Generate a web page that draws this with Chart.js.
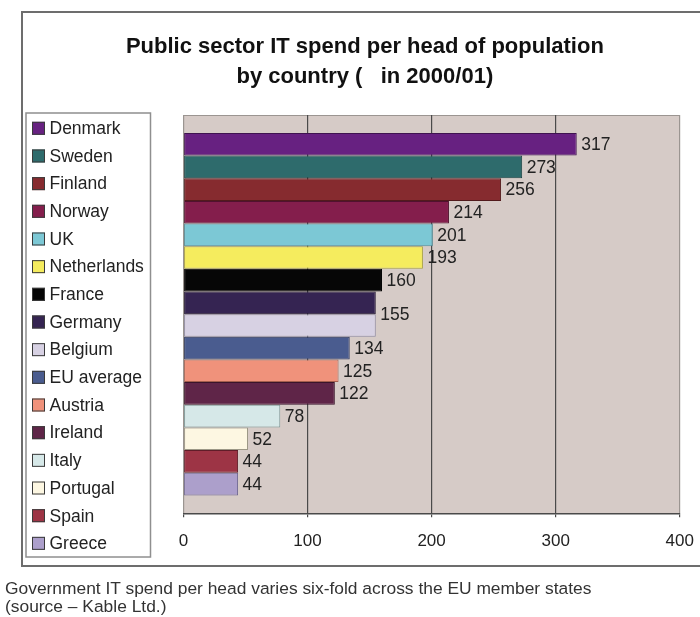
<!DOCTYPE html>
<html>
<head>
<meta charset="utf-8">
<script src="https://cdn.jsdelivr.net/npm/chart.js@4/dist/chart.umd.min.js"></script>
<style>
  html, body { margin: 0; padding: 0; background: #fff; }
  #wrap { position: relative; width: 700px; height: 617px; overflow: hidden; }
  #c { position: absolute; left: 0; top: 0; }
  .note {
    position: absolute; left: 5px; top: 579px;
    font: 17.4px "Liberation Sans", Arial, sans-serif; color: #333;
    line-height: 18px; white-space: nowrap;
  }
</style>
</head>
<body>
<div id="wrap">
  <canvas id="c" width="700" height="617"></canvas>
  <div class="note">Government IT spend per head varies six-fold across the EU member states<br>(source – Kable Ltd.)</div>
</div>
<script>
// Spend per head by country, 2000/01
const countries = ['Denmark', 'Sweden', 'Finland', 'Norway', 'UK', 'Netherlands', 'France', 'Germany',
                   'Belgium', 'EU average', 'Austria', 'Ireland', 'Italy', 'Portugal', 'Spain', 'Greece'];
const spend = [317, 273, 256, 214, 201, 193, 160, 155, 155, 134, 125, 122, 78, 52, 44, 44];
const fillColors = ['#672181', '#2e6b6c', '#862b2f', '#841e4c', '#7cc8d5', '#f5ec5e', '#060606', '#352452',
                    '#d7d1e3', '#4a5c8f', '#f0927b', '#5f2548', '#d6e8e8', '#fdf7e2', '#9d3445', '#ac9fcb'];
const edgeColors = ['#3f1350', '#1c4445', '#521a1c', '#50122e', '#4f8b96', '#a9a23e', '#000000', '#1f1531',
                    '#8d8aa3', '#28345a', '#a55f4e', '#3a152b', '#7c9a9a', '#9c9886', '#601d29', '#6d6590'];
const axisTicks = [0, 100, 200, 300, 400];
const titleLines = ['Public sector IT spend per head of population', 'by country (   in 2000/01)'];

// Germany and Belgium share one value label placed between their bars
const labelShift = { 'Germany': null, 'Belgium': -0.5 };

const FONT = '"Liberation Sans", Arial, sans-serif';
const PLOT_BG = '#d6cbc7';

const datasets = countries.map((name, i) => ({
  label: name,
  data: [spend[i]],
  backgroundColor: fillColors[i],
  borderColor: edgeColors[i],
  borderWidth: 1,
  borderSkipped: false,
  categoryPercentage: 0.91,
  barPercentage: 1.0
}));

const frameAndPlot = {
  id: 'frameAndPlot',
  beforeDraw(chart) {
    const { ctx, chartArea: a } = chart;
    ctx.save();
    ctx.fillStyle = '#fff';
    ctx.fillRect(0, 0, chart.width, chart.height);
    ctx.strokeStyle = '#6d6d6d';
    ctx.lineWidth = 2;
    ctx.strokeRect(22, 12, 800, 554);
    ctx.fillStyle = PLOT_BG;
    ctx.fillRect(a.left, a.top, a.right - a.left, a.bottom - a.top);
    ctx.strokeStyle = '#9b9591';
    ctx.lineWidth = 1;
    ctx.beginPath();
    ctx.moveTo(a.left, a.bottom);
    ctx.lineTo(a.left, a.top + 0.5);
    ctx.lineTo(a.right, a.top + 0.5);
    ctx.stroke();
    ctx.restore();
  }
};

const boxedLegend = {
  id: 'boxedLegend',
  afterDraw(chart) {
    const { ctx } = chart;
    const left = 26, top = 113, right = 150.5, bottom = 557;
    ctx.save();
    ctx.fillStyle = '#fff';
    ctx.fillRect(left, top, right - left, bottom - top);
    ctx.strokeStyle = '#8f8f8f';
    ctx.lineWidth = 1.5;
    ctx.strokeRect(left, top, right - left, bottom - top);
    ctx.font = '17.5px ' + FONT;
    ctx.textBaseline = 'middle';
    ctx.textAlign = 'left';
    const first = 128.3, step = 27.67;
    chart.data.datasets.forEach((ds, i) => {
      const cy = first + i * step;
      ctx.fillStyle = ds.backgroundColor;
      ctx.fillRect(32, cy - 6.5, 13, 13);
      ctx.strokeStyle = '#3a3a3a';
      ctx.lineWidth = 1;
      ctx.strokeRect(32.5, cy - 6, 12, 12);
      ctx.fillStyle = '#222';
      ctx.fillText(ds.label, 49.5, cy + 1);
    });
    ctx.restore();
  }
};

const valueLabels = {
  id: 'valueLabels',
  afterDatasetsDraw(chart) {
    const { ctx } = chart;
    ctx.save();
    ctx.font = '17.5px ' + FONT;
    ctx.fillStyle = '#222';
    ctx.textAlign = 'left';
    ctx.textBaseline = 'middle';
    chart.data.datasets.forEach((ds, i) => {
      const shift = labelShift[ds.label];
      if (shift === null) return;
      const el = chart.getDatasetMeta(i).data[0];
      const h = Math.abs(el.height);
      const y = el.y + (shift || 0) * h;
      ctx.fillText(String(ds.data[0]), el.x + 4.5, y + 1);
    });
    ctx.restore();
  }
};

new Chart(document.getElementById('c'), {
  type: 'bar',
  data: { labels: [''], datasets },
  options: {
    indexAxis: 'y',
    responsive: false,
    animation: false,
    layout: { padding: { left: 50, right: 20.3, top: 0, bottom: 53.7 } },
    plugins: {
      legend: { display: false },
      tooltip: { enabled: false },
      title: {
        display: true,
        text: titleLines,
        color: '#111',
        font: { family: FONT, size: 22, weight: 'bold', lineHeight: '30px' },
        padding: { top: 32, bottom: 23 }
      }
    },
    scales: {
      x: {
        type: 'linear',
        min: axisTicks[0],
        max: axisTicks[axisTicks.length - 1],
        afterBuildTicks: s => { s.ticks = axisTicks.map(v => ({ value: v })); },
        ticks: { color: '#222', font: { family: FONT, size: 17, lineHeight: 2.5 }, padding: 3 },
        grid: {
          color: c => (c.tick && (c.tick.value === 0 || c.tick.value === 400)) ? '#9b9591' : '#4a4a4a',
          lineWidth: 1.2,
          tickLength: 4,
          tickColor: '#4a4a4a'
        },
        border: { color: '#4a4a4a', width: 1.5 },
        afterFit: s => { s.height = 50; }
      },
      y: {
        type: 'category',
        grid: { display: false },
        ticks: { display: false },
        border: { display: false },
        afterFit: s => { s.width = 133.5; }
      }
    }
  },
  plugins: [frameAndPlot, boxedLegend, valueLabels]
});
</script>
</body>
</html>
